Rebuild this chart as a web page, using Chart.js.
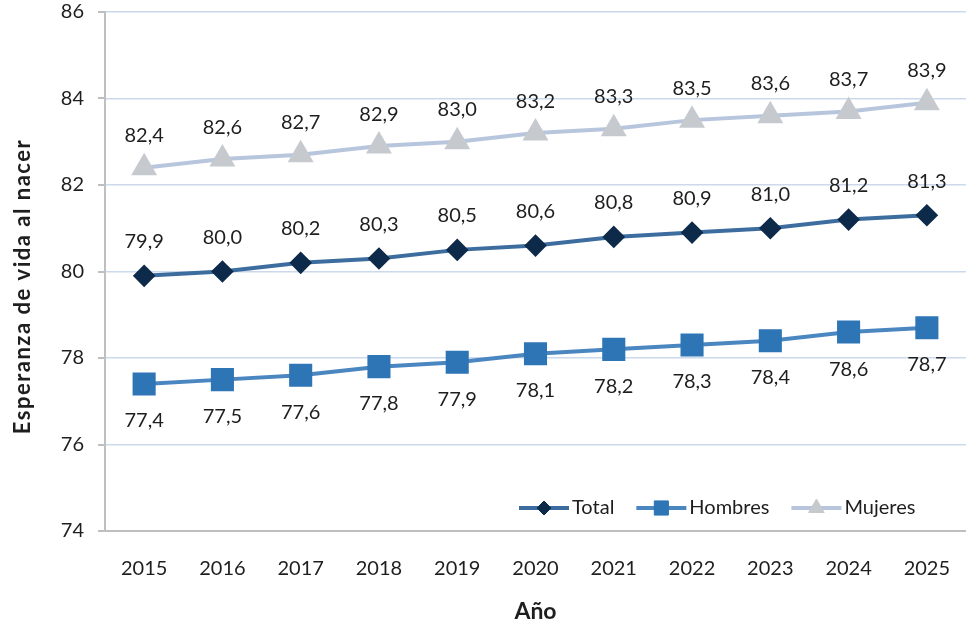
<!DOCTYPE html>
<html>
<head>
<meta charset="utf-8">
<script src="https://cdn.jsdelivr.net/npm/chart.js@4/dist/chart.umd.min.js"></script>
<style>
  html, body { margin: 0; padding: 0; background: #fff; }
  #wrap { width: 966px; height: 625px; }
</style>
</head>
<body>
<div id="wrap"><canvas id="lifeChart" width="966" height="625"></canvas></div>
<script>
// Esperanza de vida al nacer, 2015-2025
const years = ['2015', '2016', '2017', '2018', '2019', '2020', '2021', '2022', '2023', '2024', '2025'];
const totalValues = [79.9, 80.0, 80.2, 80.3, 80.5, 80.6, 80.8, 80.9, 81.0, 81.2, 81.3];
const menValues = [77.4, 77.5, 77.6, 77.8, 77.9, 78.1, 78.2, 78.3, 78.4, 78.6, 78.7];
const womenValues = [82.4, 82.6, 82.7, 82.9, 83.0, 83.2, 83.3, 83.5, 83.6, 83.7, 83.9];
const yTicks = [74, 76, 78, 80, 82, 84, 86];
const yTitle = 'Esperanza de vida al nacer';

const font = 'Lato, "Open Sans", sans-serif';
const textColor = '#1e1e1e';
const axisGray = '#bfbfbf';

const fmt = v => v.toFixed(1).replace('.', ',');

// value labels above / below each point
const valueLabels = {
  id: 'valueLabels',
  afterDatasetsDraw(chart) {
    const ctx = chart.ctx;
    ctx.save();
    ctx.font = '20px ' + font;
    ctx.fillStyle = textColor;
    ctx.textAlign = 'center';
    ctx.textBaseline = 'middle';
    chart.data.datasets.forEach((ds, i) => {
      const meta = chart.getDatasetMeta(i);
      meta.data.forEach((pt, j) => {
        ctx.fillText(fmt(ds.data[j]), pt.x, pt.y + ds.labelOffset);
      });
    });
    ctx.restore();
  }
};

// short outside tick marks on the y axis + rotated y title (spaced like the original)
const yAxisDecor = {
  id: 'yAxisDecor',
  afterDraw(chart) {
    const ctx = chart.ctx;
    const y = chart.scales.y;
    const area = chart.chartArea;
    ctx.save();
    ctx.strokeStyle = axisGray;
    ctx.lineWidth = 2;
    yTicks.forEach(v => {
      const py = Math.round(y.getPixelForValue(v));
      ctx.beginPath();
      ctx.moveTo(area.left - 7, py);
      ctx.lineTo(area.left, py);
      ctx.stroke();
    });
    ctx.translate(23, (area.top + area.bottom) / 2 + 15);
    ctx.rotate(-Math.PI / 2);
    ctx.font = 'bold 22px ' + font;
    if ('letterSpacing' in ctx) ctx.letterSpacing = '1.5px';
    ctx.fillStyle = textColor;
    ctx.textAlign = 'center';
    ctx.textBaseline = 'middle';
    ctx.fillText(yTitle, 0, 0);
    ctx.restore();
  }
};

// legend drawn inside the plot, bottom right, with line + marker symbols
const insideLegend = {
  id: 'insideLegend',
  afterDraw(chart) {
    const ctx = chart.ctx;
    const area = chart.chartArea;
    ctx.save();
    ctx.font = '20px ' + font;
    ctx.textBaseline = 'middle';
    const y = area.bottom - 23;
    let x = 519;
    chart.data.datasets.forEach(ds => {
      ctx.strokeStyle = ds.borderColor;
      ctx.lineWidth = ds.borderWidth;
      ctx.beginPath();
      ctx.moveTo(x, y);
      ctx.lineTo(x + 50, y);
      ctx.stroke();
      ctx.fillStyle = ds.pointBackgroundColor;
      ctx.strokeStyle = ds.pointBackgroundColor;
      ctx.lineWidth = 1;
      Chart.helpers.drawPoint(ctx, { pointStyle: ds.pointStyle, radius: ds.legendRadius, rotation: 0, borderWidth: 1 }, x + 25, y);
      ctx.fillStyle = textColor;
      ctx.textAlign = 'left';
      ctx.fillText(ds.label, x + 53, y);
      x += 53 + ctx.measureText(ds.label).width + 22;
    });
    ctx.restore();
  }
};

new Chart(document.getElementById('lifeChart'), {
  type: 'line',
  data: {
    labels: years,
    datasets: [
      {
        label: 'Total',
        data: totalValues,
        borderColor: '#3d6d9e',
        borderWidth: 4,
        pointStyle: 'rectRot',
        pointRadius: 8.5,
        pointBackgroundColor: '#0e2a4a',
        pointBorderColor: '#0e2a4a',
        labelOffset: -34,
        legendRadius: 7
      },
      {
        label: 'Hombres',
        data: menValues,
        borderColor: '#4a86c0',
        borderWidth: 4,
        pointStyle: 'rect',
        pointRadius: 13.5,
        pointBackgroundColor: '#2e75b6',
        pointBorderColor: '#2e75b6',
        labelOffset: 37,
        legendRadius: 10
      },
      {
        label: 'Mujeres',
        data: womenValues,
        borderColor: '#b7c6dd',
        borderWidth: 4,
        pointStyle: 'triangle',
        pointRadius: 11,
        pointBackgroundColor: '#c6cacf',
        pointBorderColor: '#c6cacf',
        labelOffset: -32,
        legendRadius: 9
      }
    ]
  },
  options: {
    responsive: false,
    animation: false,
    layout: { padding: 0, autoPadding: false },
    scales: {
      x: {
        offset: true,
        grid: { display: true, drawOnChartArea: false, drawTicks: true, tickLength: 26, tickColor: 'rgba(0,0,0,0)' },
        border: { color: axisGray, width: 2 },
        ticks: { color: textColor, font: { family: font, size: 20 }, padding: 0 },
        title: { display: true, text: 'Año', color: textColor, font: { family: font, size: 23, weight: 'bold' }, padding: { top: 0, bottom: 0 } },
        afterFit: s => { s.height = 94; }
      },
      y: {
        min: 74,
        max: 86,
        afterBuildTicks: s => { s.ticks = yTicks.map(v => ({ value: v })); },
        grid: { color: '#ccd9ec', lineWidth: 1.5, drawTicks: true, tickLength: 21, tickColor: 'rgba(0,0,0,0)' },
        border: { color: axisGray, width: 2 },
        ticks: { color: textColor, font: { family: font, size: 20 }, padding: 0 },
        title: { display: false },
        afterFit: s => { s.width = 105; }
      }
    },
    plugins: {
      legend: { display: false },
      tooltip: { enabled: false }
    }
  },
  plugins: [valueLabels, yAxisDecor, insideLegend]
});
</script>
</body>
</html>
